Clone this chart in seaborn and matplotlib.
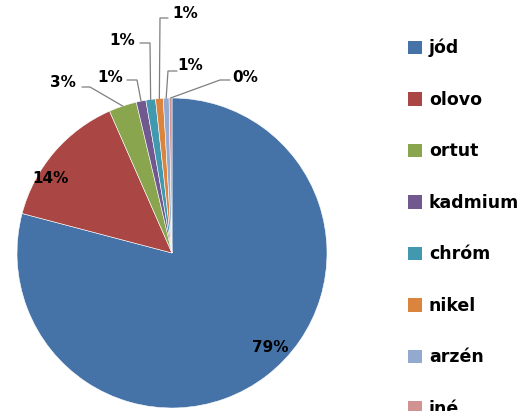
import numpy as np
import matplotlib
matplotlib.use("Agg")
import matplotlib.pyplot as plt
import matplotlib.patches as mpatches
import seaborn as sns

# data
labels = ["jód", "olovo", "ortut", "kadmium", "chróm", "nikel", "arzén", "iné"]
values = [79.1, 14.3, 2.9, 1.0, 1.0, 0.8, 0.6, 0.3]
pct_text = ["79%", "14%", "3%", "1%", "1%", "1%", "1%", "0%"]
colors = ["#4572A7", "#AA4643", "#89A54E", "#71588F", "#4198AF", "#DB843D", "#93A9CF", "#D19392"]

sns.set_style("white")
plt.rcParams["font.family"] = ["DejaVu Sans"]

W, H = 530, 411
fig = plt.figure(figsize=(W / 100, H / 100), dpi=100)
fig.patch.set_facecolor("white")

# pie centre (172, 253) px, radius 155 px
CX, CY, R = 172, 253, 155
ax = fig.add_axes([(CX - R) / W, (H - CY - R) / H, 2 * R / W, 2 * R / H])
wedges, _ = ax.pie(values, colors=colors, startangle=90, counterclock=False,
                   wedgeprops=dict(edgecolor="white", linewidth=0.4))
ax.set_xlim(-1, 1)
ax.set_ylim(-1, 1)
ax.set_aspect("equal")
ax.axis("off")


def px(x, y):
    return (x - CX) / R, (CY - y) / R


# label centres and leader elbows (pixels)
label_pos = [(270, 348), (50, 178), (63, 82), (110, 77), (122, 40), (185, 13), (190, 65), (245, 77)]
leaders = {
    2: [(82, 87), (90, 87)],
    3: [(127, 80), (137, 80)],
    4: [(140, 43), (150, 43)],
    5: [(168, 18), (160, 18)],
    6: [(177, 71), (168, 71)],
    7: [(230, 80), (220, 80)],
}

for i, w in enumerate(wedges):
    tx, ty = px(*label_pos[i])
    ax.text(tx, ty, pct_text[i], ha="center", va="center", fontsize=11,
            fontweight="bold", color="black", clip_on=False)
    if i in leaders:
        mid = np.deg2rad((w.theta1 + w.theta2) / 2)
        pts = [px(*p) for p in leaders[i]] + [(np.cos(mid), np.sin(mid))]
        xs, ys = zip(*pts)
        ax.plot(xs, ys, color="#7f7f7f", lw=0.9, clip_on=False)

handles = [mpatches.Patch(facecolor=c, edgecolor="none") for c in colors]
leg = fig.legend(handles, labels, loc="upper left", bbox_to_anchor=(401 / W, 1 - 32 / H),
                 frameon=False, prop=dict(size=12.5, weight="bold"),
                 handlelength=0.8, handleheight=0.8, handletextpad=0.4,
                 labelspacing=1.93, borderaxespad=0)
for t in leg.get_texts():
    t.set_color("black")

fig.savefig("out.png", dpi=100, facecolor="white")
